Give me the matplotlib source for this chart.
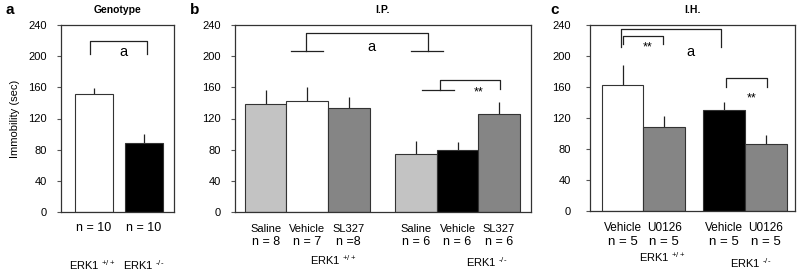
import matplotlib
matplotlib.use("Agg")
import matplotlib.pyplot as plt

plt.rcParams['font.family'] = ['Liberation Sans', 'DejaVu Sans']
plt.rcParams['mathtext.fontset'] = 'custom'
plt.rcParams['mathtext.rm'] = 'Liberation Sans'

# ---- data ----
WT = "ERK1 $^{\\mathregular{+/+}}$"
KO = "ERK1 $^{\\mathregular{\u2010/\u2010}}$"

# panel a: genotype
a_groups = [WT, KO]
a_n = ["n = 10", "n = 10"]
a_means = [151, 88]
a_err = [8, 12]

# panel b: I.P.
b_drugs = ["Saline", "Vehicle", "SL327", "Saline", "Vehicle", "SL327"]
b_n = ["n = 8", "n = 7", "n =8", "n = 6", "n = 6", "n = 6"]
b_means = [139, 142, 134, 74, 79, 126]
b_err = [18, 19, 13, 17, 11, 15]
b_groups = [WT, KO]

# panel c: I.H.
c_drugs = ["Vehicle", "U0126", "Vehicle", "U0126"]
c_n = ["n = 5", "n = 5", "n = 5", "n = 5"]
c_means = [163, 109, 130, 87]
c_err = [26, 13, 11, 11]
c_groups = [WT, KO]

LIGHT = '#c3c3c3'
DARK = '#858585'
a_colors = ['white', 'black']
b_colors = [LIGHT, 'white', DARK, LIGHT, 'black', DARK]
c_colors = ['white', DARK, 'black', DARK]

# bar positions (in bar-width units)
a_x = [0.87, 2.18]
b_x = [0.74, 1.74, 2.74, 4.36, 5.36, 6.36]
c_x = [0.78, 1.78, 3.22, 4.22]

W, H = 800, 277
fig = plt.figure(figsize=(8, 2.77), dpi=100)


def make_ax(left, right, top, bottom):
    return fig.add_axes([left / W, 1 - bottom / H, (right - left) / W, (bottom - top) / H])


def style(ax, xmax, pad):
    ax.set_ylim(0, 240)
    ax.set_xlim(0, xmax)
    ax.set_yticks(range(0, 241, 40))
    ax.tick_params(axis='y', length=3, width=0.8, pad=pad, labelsize=8, color='#555555')
    ax.set_xticks([])
    for s in ax.spines.values():
        s.set_linewidth(0.9)
        s.set_color('#333333')


def bars(ax, x, means, err, colors):
    ax.bar(x, means, width=1.0, color=colors, edgecolor='#333333', linewidth=0.8, zorder=2)
    ax.vlines(x, means, [m + e for m, e in zip(means, err)], color='#222222', linewidth=0.9, zorder=1)


def bracket(ax, x0, x1, top, left_bottom, right_bottom):
    ax.plot([x0, x0, x1, x1], [left_bottom, top, top, right_bottom], color='#222222', lw=0.9)


def labels(ax, x, lines, ys, size=8):
    for xi, txt in zip(x, lines):
        ax.text(xi, ys, txt, transform=ax.get_xaxis_transform(), ha='center', va='center', fontsize=size)


# ---- panel a ----
ax1 = make_ax(61, 174, 25, 212)
style(ax1, 2.97, 7)
bars(ax1, a_x, a_means, a_err, a_colors)
bracket(ax1, 0.76, 2.26, 220, 203, 203)
ax1.text(1.63, 205, 'a', ha='center', va='center', fontsize=10.5)
labels(ax1, a_x, a_n, -0.086, 9)
labels(ax1, [0.83, 2.18], a_groups, -0.283)
ax1.set_ylabel('Immobility (sec)', fontsize=8, labelpad=6)
ax1.text(0.5, 1.08, 'Genotype', transform=ax1.transAxes, ha='center', va='center',
         fontsize=7.5, fontweight='bold')

# ---- panel b ----
ax2 = make_ax(235, 531, 25, 212)
style(ax2, 7.13, 7)
bars(ax2, b_x, b_means, b_err, b_colors)
bracket(ax2, 1.70, 4.65, 230, 207, 207)
ax2.plot([1.34, 2.12], [207, 207], color='#222222', lw=0.9)
ax2.plot([4.23, 5.01], [207, 207], color='#222222', lw=0.9)
ax2.text(3.29, 212, 'a', ha='center', va='center', fontsize=10.5)
bracket(ax2, 4.94, 6.39, 170, 157, 157.5)
ax2.plot([4.50, 5.28], [157, 157], color='#222222', lw=0.9)
ax2.text(5.86, 153, '**', ha='center', va='center', fontsize=9)
labels(ax2, b_x, b_drugs, -0.091)
labels(ax2, b_x, b_n, -0.162, 9)
ax2.text(2.36, -0.257, b_groups[0], transform=ax2.get_xaxis_transform(), ha='center', va='center', fontsize=8)
ax2.text(6.07, -0.27, b_groups[1], transform=ax2.get_xaxis_transform(), ha='center', va='center', fontsize=8)
ax2.text(0.5, 1.08, 'I.P.', transform=ax2.transAxes, ha='center', va='center',
         fontsize=7.5, fontweight='bold')

# ---- panel c ----
ax3 = make_ax(590, 795, 25, 211)
style(ax3, 4.92, 11)
bars(ax3, c_x, c_means, c_err, c_colors)
bracket(ax3, 0.74, 3.14, 234.5, 212, 212)
bracket(ax3, 0.79, 1.75, 226, 216, 216)
ax3.text(1.39, 211, '**', ha='center', va='center', fontsize=9)
ax3.text(2.40, 205, 'a', ha='center', va='center', fontsize=10.5)
bracket(ax3, 3.26, 4.24, 171.5, 160, 160)
ax3.text(3.88, 145, '**', ha='center', va='center', fontsize=9)
labels(ax3, c_x, c_drugs, -0.091, 8.5)
labels(ax3, c_x, c_n, -0.167, 9.5)
ax3.text(1.73, -0.25, c_groups[0], transform=ax3.get_xaxis_transform(), ha='center', va='center', fontsize=8)
ax3.text(3.85, -0.28, c_groups[1], transform=ax3.get_xaxis_transform(), ha='center', va='center', fontsize=8)
ax3.text(0.5, 1.08, 'I.H.', transform=ax3.transAxes, ha='center', va='center',
         fontsize=7.5, fontweight='bold')

# panel letters
fig.text(10 / W, 1 - 10 / H, 'a', fontsize=11, fontweight='bold', ha='center', va='center')
fig.text(195 / W, 1 - 10 / H, 'b', fontsize=11, fontweight='bold', ha='center', va='center')
fig.text(555 / W, 1 - 10 / H, 'c', fontsize=11, fontweight='bold', ha='center', va='center')

fig.savefig('out.png', dpi=100)
